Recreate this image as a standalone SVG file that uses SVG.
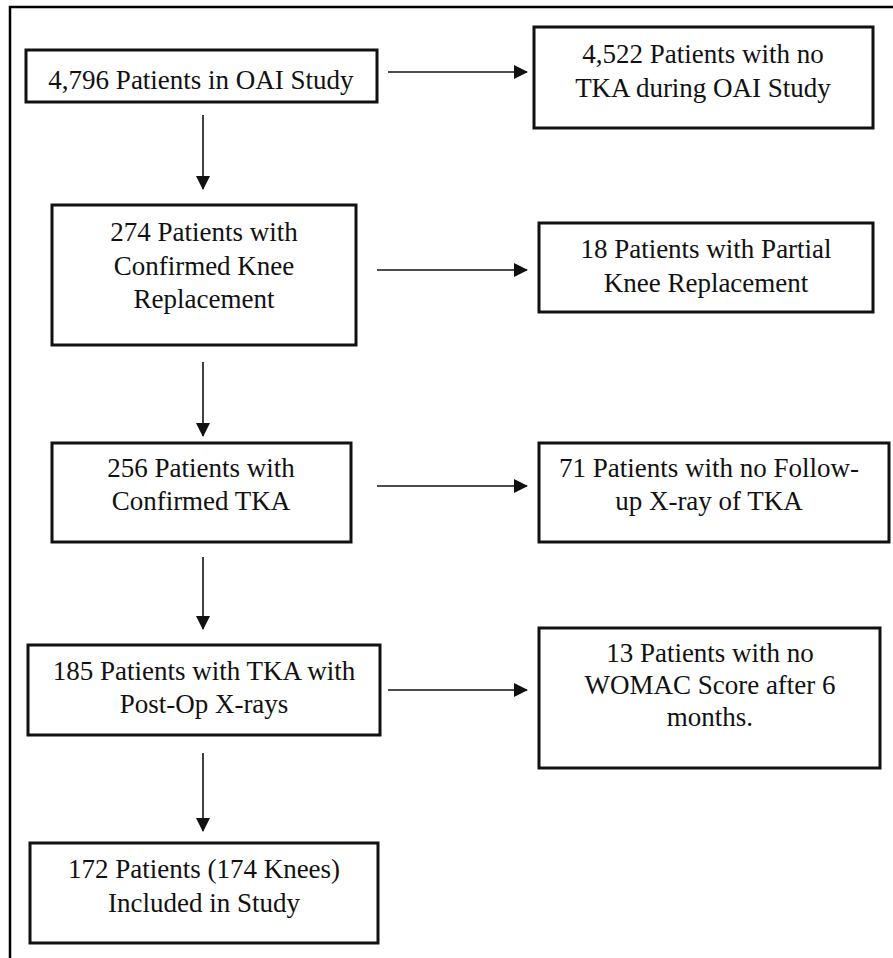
<svg xmlns="http://www.w3.org/2000/svg" width="893" height="958" viewBox="0 0 893 958">
<style>
.box{fill:#fff;stroke:#111;stroke-width:3}
.t{font-family:'Liberation Serif','Times New Roman',Times,serif;font-size:27px;fill:#111;text-anchor:middle}
.c{stroke:#111;stroke-width:1.6;fill:none}
.frame{stroke:#000;stroke-width:2.5;fill:none}
</style>
<defs>
<marker id="ahd" markerWidth="14" markerHeight="14" refX="13" refY="7" orient="auto" markerUnits="userSpaceOnUse" viewBox="0 0 14 14">
<path d="M0,0 L14,7 L0,14 Z" fill="#111"/>
</marker>
</defs>
<rect width="893" height="958" fill="#fff"/>
<path class="frame" d="M10,958 L10,7 L893,7"/>
<g id="connectors">
<line class="c" x1="388" y1="72" x2="527" y2="72" marker-end="url(#ahd)"/>
<line class="c" x1="203" y1="115" x2="203" y2="189" marker-end="url(#ahd)"/>
<line class="c" x1="377" y1="270" x2="527" y2="270" marker-end="url(#ahd)"/>
<line class="c" x1="203" y1="362" x2="203" y2="436" marker-end="url(#ahd)"/>
<line class="c" x1="377" y1="486" x2="527" y2="486" marker-end="url(#ahd)"/>
<line class="c" x1="203" y1="557" x2="203" y2="629" marker-end="url(#ahd)"/>
<line class="c" x1="388" y1="690" x2="527" y2="690" marker-end="url(#ahd)"/>
<line class="c" x1="203" y1="753" x2="203" y2="831" marker-end="url(#ahd)"/>
</g>
<g id="n1">
<rect class="box" x="26" y="50" width="351" height="52"/>
<text class="t" x="201" y="89" font-family="Liberation Serif">4,796 Patients in OAI Study</text>
</g>
<g id="n2">
<rect class="box" x="534" y="27" width="339" height="101"/>
<text class="t" x="703" y="63" font-family="Liberation Serif">4,522 Patients with no</text>
<text class="t" x="703" y="97" font-family="Liberation Serif">TKA during OAI Study</text>
</g>
<g id="n3">
<rect class="box" x="52" y="205" width="304" height="140"/>
<text class="t" x="204" y="241" font-family="Liberation Serif">274 Patients with</text>
<text class="t" x="204" y="275" font-family="Liberation Serif">Confirmed Knee</text>
<text class="t" x="204" y="308" font-family="Liberation Serif">Replacement</text>
</g>
<g id="n4">
<rect class="box" x="539" y="223" width="334" height="89"/>
<text class="t" x="706" y="258" font-family="Liberation Serif">18 Patients with Partial</text>
<text class="t" x="706" y="292" font-family="Liberation Serif">Knee Replacement</text>
</g>
<g id="n5">
<rect class="box" x="52" y="443" width="299" height="99"/>
<text class="t" x="201" y="477" font-family="Liberation Serif">256 Patients with</text>
<text class="t" x="201" y="510" font-family="Liberation Serif">Confirmed TKA</text>
</g>
<g id="n6">
<rect class="box" x="539" y="443" width="350" height="99"/>
<text class="t" x="709" y="477" font-family="Liberation Serif">71 Patients with no Follow-</text>
<text class="t" x="709" y="510" font-family="Liberation Serif">up X-ray of TKA</text>
</g>
<g id="n7">
<rect class="box" x="28" y="645" width="352" height="90"/>
<text class="t" x="204" y="680" font-family="Liberation Serif">185 Patients with TKA with</text>
<text class="t" x="204" y="713" font-family="Liberation Serif">Post-Op X-rays</text>
</g>
<g id="n8">
<rect class="box" x="539" y="628" width="341" height="140"/>
<text class="t" x="710" y="662" font-family="Liberation Serif">13 Patients with no</text>
<text class="t" x="710" y="694" font-family="Liberation Serif">WOMAC Score after 6</text>
<text class="t" x="710" y="726" font-family="Liberation Serif">months.</text>
</g>
<g id="n9">
<rect class="box" x="30" y="843" width="348" height="100"/>
<text class="t" x="204" y="878" font-family="Liberation Serif">172 Patients (174 Knees)</text>
<text class="t" x="204" y="912" font-family="Liberation Serif">Included in Study</text>
</g>
</svg>
